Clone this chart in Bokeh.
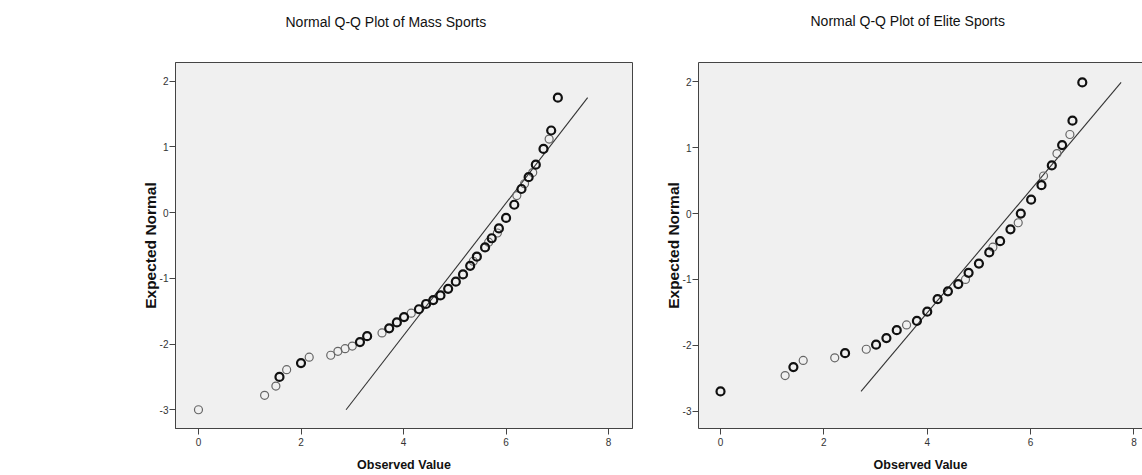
from bokeh.plotting import figure
from bokeh.models import Range1d, LinearAxis, FixedTicker, ColumnDataSource, Title
from bokeh.layouts import row
from bokeh.embed import file_html
from bokeh.resources import INLINE

# ---------------- data ----------------
mass_x = [0.00, 1.29, 1.51, 1.58, 1.72, 2.00, 2.16, 2.58, 2.72, 2.86, 3.00, 3.15, 3.29,
          3.58, 3.72, 3.87, 4.01, 4.15, 4.30, 4.44, 4.58, 4.72, 4.87, 5.02, 5.16, 5.30,
          5.36, 5.43, 5.59, 5.66, 5.72, 5.83, 5.86, 6.00, 6.16, 6.21, 6.30, 6.36, 6.44,
          6.52, 6.58, 6.73, 6.84, 6.88, 7.01]
mass_y = [-3.00, -2.78, -2.64, -2.50, -2.39, -2.29, -2.20, -2.17, -2.11, -2.07, -2.03, -1.97, -1.88,
          -1.83, -1.76, -1.67, -1.59, -1.53, -1.47, -1.39, -1.33, -1.26, -1.16, -1.05, -0.94, -0.81,
          -0.74, -0.67, -0.53, -0.45, -0.39, -0.31, -0.24, -0.08, 0.12, 0.26, 0.36, 0.44, 0.54,
          0.61, 0.73, 0.97, 1.12, 1.25, 1.75]
mass_bold = [0, 0, 0, 1, 0, 1, 0, 0, 0, 0, 0, 1, 1,
             0, 1, 1, 1, 0, 1, 1, 1, 1, 1, 1, 1, 1,
             0, 1, 1, 0, 1, 0, 1, 1, 1, 0, 1, 0, 1,
             0, 1, 1, 0, 1, 1]
mass_mean, mass_sd = 5.855, 0.992

elite_x = [0.00, 1.25, 1.41, 1.60, 2.21, 2.41, 2.82, 3.01, 3.21, 3.41, 3.60, 3.80, 4.00,
           4.20, 4.40, 4.60, 4.74, 4.80, 5.00, 5.20, 5.27, 5.41, 5.61, 5.76, 5.81, 6.01,
           6.21, 6.25, 6.41, 6.51, 6.61, 6.76, 6.81, 7.00]
elite_y = [-2.70, -2.46, -2.33, -2.23, -2.19, -2.12, -2.06, -1.99, -1.89, -1.77, -1.69, -1.63, -1.49,
           -1.30, -1.18, -1.07, -1.00, -0.90, -0.76, -0.59, -0.51, -0.42, -0.24, -0.14, 0.00, 0.21,
           0.43, 0.57, 0.73, 0.91, 1.04, 1.20, 1.41, 1.99]
elite_bold = [1, 0, 1, 0, 0, 1, 0, 1, 1, 1, 0, 1, 1,
              1, 1, 1, 0, 1, 1, 1, 0, 1, 1, 0, 1, 1,
              1, 0, 1, 0, 1, 0, 1, 1]
elite_mean, elite_sd = 5.616, 1.073

titles = ["Normal Q-Q Plot of Mass Sports", "Normal Q-Q Plot of Elite Sports"]
x_ticks = [0, 2, 4, 6, 8]
y_ticks = [-3, -2, -1, 0, 1, 2]
y_tick_labels = {-3: "-3", -2: "-2", -1: "-1", 0: "0", 1: "1", 2: "2"}

FONT = "Liberation Sans"


def make_panel(xs, ys, bold, mean, sd, title, width, border_left, border_right,
               xr, yr, title_offset, outline=True):
    p = figure(width=width, height=475, output_backend="svg", toolbar_location=None,
               title=None,
               x_range=Range1d(*xr), y_range=Range1d(*yr),
               min_border_left=border_left, min_border_right=border_right,
               min_border_top=62, min_border_bottom=47,
               background_fill_color="#f0f0f0", border_fill_color="white")
    p.grid.visible = False
    p.outline_line_color = "#444444" if outline else None
    p.outline_line_width = 1

    xax = p.below[0]
    yax = p.left[0]
    for ax in (xax, yax):
        ax.axis_line_color = "#444444"
        ax.major_tick_line_color = "#444444"
        ax.major_tick_out = 6
        ax.major_tick_in = 0
        ax.minor_tick_line_color = None
        ax.major_label_text_font = FONT
        ax.major_label_text_font_size = "10px"
        ax.major_label_text_color = "#333333"
        ax.axis_label_text_font = FONT
        ax.axis_label_text_font_style = "bold"
        ax.axis_label_text_color = "#111111"
    xax.ticker = FixedTicker(ticks=x_ticks)
    yax.ticker = FixedTicker(ticks=y_ticks)
    yax.major_label_overrides = y_tick_labels
    xax.axis_label = "Observed Value"
    yax.axis_label = "Expected Normal"
    xax.axis_label_text_font_size = "12.5px"
    yax.axis_label_text_font_size = "15.5px"
    xax.major_label_standoff = 3
    yax.major_label_standoff = 1
    xax.axis_label_standoff = 9
    yax.axis_label_standoff = -2

    spacer_standoff = 15
    if not outline:
        top = LinearAxis(ticker=FixedTicker(ticks=[]), axis_line_color="#444444",
                         major_tick_line_color=None, minor_tick_line_color=None,
                         major_tick_out=0, major_tick_in=0, major_label_standoff=0,
                         major_label_text_font_size="1px")
        p.add_layout(top, "above")
        spacer_standoff = 16

    # empty spacer title keeps the real title away from the frame
    p.add_layout(Title(text=" ", standoff=spacer_standoff, text_font_size="14px",
                       text_font=FONT), "above")
    p.add_layout(Title(text=title, standoff=0, align="left", offset=title_offset,
                       text_font=FONT, text_font_size="14px", text_font_style="normal",
                       text_color="#111111"), "above")

    # reference line of the normal distribution
    y_lo, y_hi = min(ys), max(ys)
    p.line([mean + sd * y_lo, mean + sd * y_hi], [y_lo, y_hi],
           line_color="#333333", line_width=1.1)

    thin = ColumnDataSource(dict(x=[a for a, b in zip(xs, bold) if not b],
                                 y=[c for c, b in zip(ys, bold) if not b]))
    heavy = ColumnDataSource(dict(x=[a for a, b in zip(xs, bold) if b],
                                  y=[c for c, b in zip(ys, bold) if b]))
    p.scatter("x", "y", source=thin, marker="circle", size=8, fill_color=None,
              line_color="#666666", line_width=1.2)
    p.scatter("x", "y", source=heavy, marker="circle", size=8, fill_color=None,
              line_color="#111111", line_width=2.2)
    return p


p1 = make_panel(mass_x, mass_y, mass_bold, mass_mean, mass_sd, titles[0],
                width=660, border_left=175, border_right=28,
                xr=(-0.448, 8.466), yr=(-3.285, 2.285), title_offset=110)
p2 = make_panel(elite_x, elite_y, elite_bold, elite_mean, elite_sd, titles[1],
                width=482, border_left=38, border_right=0,
                xr=(-0.426, 8.165), yr=(-3.263, 2.293), title_offset=112, outline=False)

layout = row(p1, p2, spacing=0)
open("out.html", "w").write(file_html(layout, INLINE))
